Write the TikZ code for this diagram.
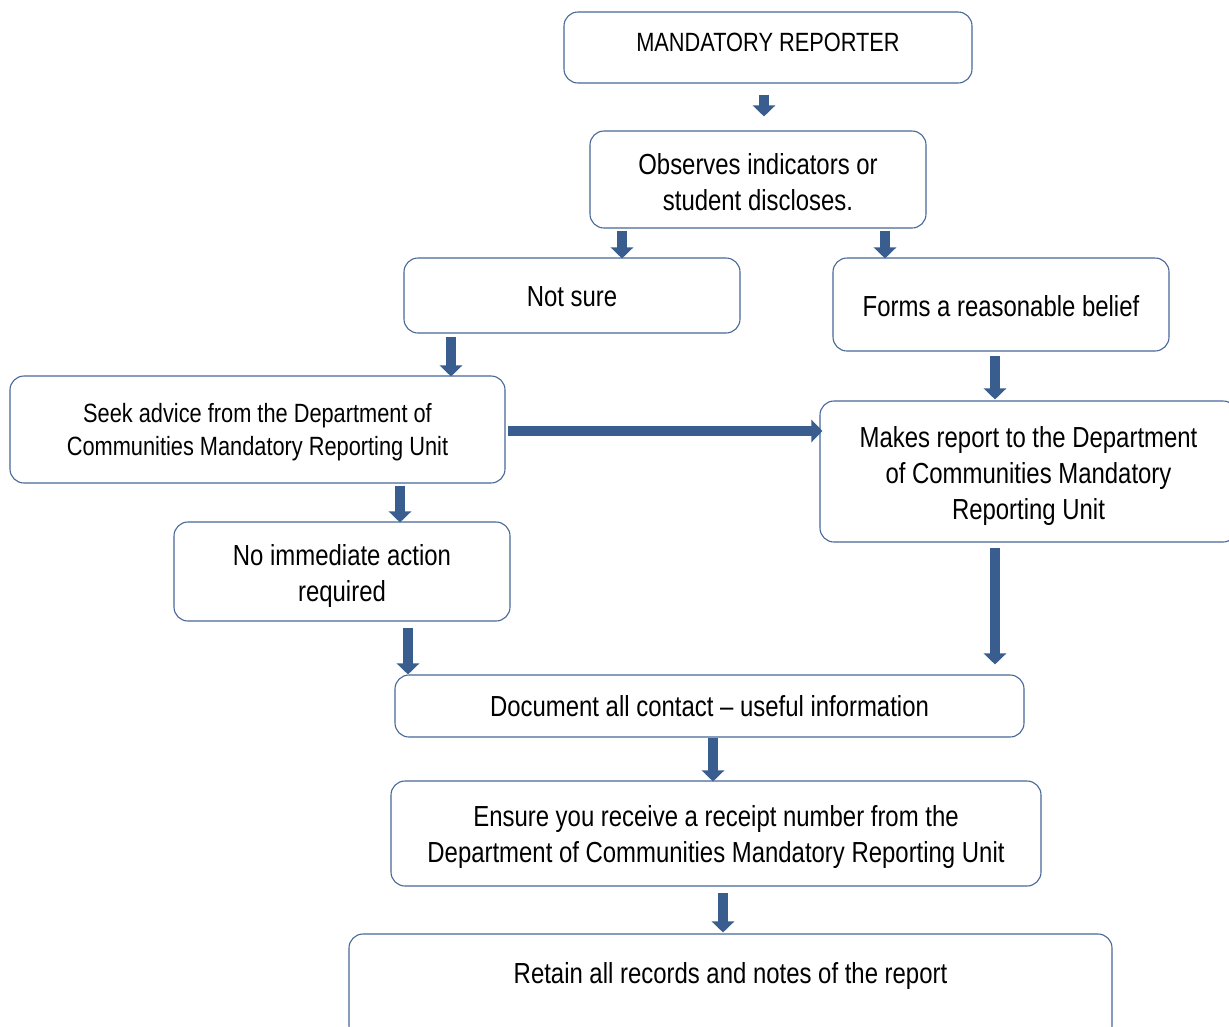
\documentclass[tikz,border=0pt]{standalone}
\usepackage{fontspec}
\setmainfont[FakeStretch=0.825]{Liberation Sans}
\usetikzlibrary{arrows.meta}
\definecolor{boxline}{RGB}{72,104,152}
\definecolor{arrfill}{RGB}{58,93,143}
\tikzset{
  box/.style={draw=boxline, line width=1.1pt, rounded corners=14pt, inner sep=0pt},
  txt/.style={inner sep=0pt, align=center, text=black, font=\fontsize{29}{36}\selectfont},
  smalltxt/.style={txt, font=\fontsize{26.4}{33}\selectfont},
  arr/.style={draw=arrfill, line width=10pt, -{Triangle[width=22pt,length=11pt]}},
}
\begin{document}
\begin{tikzpicture}[x=1pt,y=-1pt]
\clip (0,0) rectangle (1229,1026);
\fill[white] (0,0) rectangle (1229,1026);

\node[box, minimum width=408pt, minimum height=71pt] (b1) at (768,47.5) {};
\node[smalltxt] (t1) at ([yshift=5.5pt]b1.center) {MANDATORY REPORTER};

\node[box, minimum width=336pt, minimum height=97pt] (b2) at (758,179.5) {};
\node[txt] (t2) at ([yshift=-3pt]b2.center) {Observes indicators or\\student discloses.};

\node[box, minimum width=336pt, minimum height=75pt] (b3) at (572,295.5) {};
\node[txt] (t3) at ([yshift=-1pt]b3.center) {Not sure};

\node[box, minimum width=336pt, minimum height=93pt] (b4) at (1001,304.5) {};
\node[txt] (t4) at ([yshift=-2pt]b4.center) {Forms a reasonable belief};

\node[box, minimum width=495pt, minimum height=107pt] (b5) at (257.5,429.5) {};
\node[smalltxt] (t5) at ([yshift=-3pt]b5.center) {Seek advice from the Department of\\Communities Mandatory Reporting Unit};

\node[box, minimum width=417pt, minimum height=141pt] (b6) at (1028.5,471.5) {};
\node[txt] (t6) at ([yshift=-4pt]b6.center) {Makes report to the Department\\of Communities Mandatory\\Reporting Unit};

\node[box, minimum width=336pt, minimum height=99pt] (b7) at (342,571.5) {};
\node[txt] (t7) at ([yshift=-4.5pt]b7.center) {No immediate action\\required};

\node[box, minimum width=629pt, minimum height=62pt] (b8) at (709.5,706) {};
\node[txt] (t8) at (b8.center) {Document all contact -- useful information};

\node[box, minimum width=650pt, minimum height=105pt] (b9) at (716,833.5) {};
\node[txt] (t9) at ([yshift=-3.5pt]b9.center) {Ensure you receive a receipt number from the\\Department of Communities Mandatory Reporting Unit};

\node[box, minimum width=763pt, minimum height=106pt] (b10) at (730.5,987) {};
\node[txt] (t10) at ([yshift=11pt]b10.center) {Retain all records and notes of the report};

\draw[arr] ([xshift=-4pt,yshift=-11pt]b1.south) -- ([xshift=6pt,yshift=14pt]b2.north);
\draw[arr] ([xshift=-136pt,yshift=-2pt]b2.south) -- ([xshift=50pt,yshift=-1pt]b3.north);
\draw[arr] ([xshift=127pt,yshift=-2pt]b2.south) -- ([xshift=-116pt,yshift=-1pt]b4.north);
\draw[arr] ([xshift=-121pt,yshift=-3pt]b3.south) -- ([xshift=193.5pt,yshift=-1pt]b5.north);
\draw[arr] ([xshift=2pt,yshift=-1.5pt]b5.east) -- ([xshift=3pt,yshift=40.5pt]b6.west);
\draw[arr] ([xshift=-6pt,yshift=-4pt]b4.south) -- ([xshift=-33.5pt,yshift=1pt]b6.north);
\draw[arr] ([xshift=142.5pt,yshift=-2pt]b5.south) -- ([xshift=58pt,yshift=-1pt]b7.north);
\draw[arr] ([xshift=66pt,yshift=-6pt]b7.south) -- ([xshift=-301.5pt]b8.north);
\draw[arr] ([xshift=-33.5pt,yshift=-5pt]b6.south) -- ([xshift=285.5pt,yshift=10pt]b8.north);
\draw[arr] ([xshift=3.5pt]b8.south) -- ([xshift=-3pt,yshift=-1pt]b9.north);
\draw[arr] ([xshift=7pt,yshift=-6pt]b9.south) -- ([xshift=-7.5pt,yshift=1pt]b10.north);
\end{tikzpicture}
\end{document}
